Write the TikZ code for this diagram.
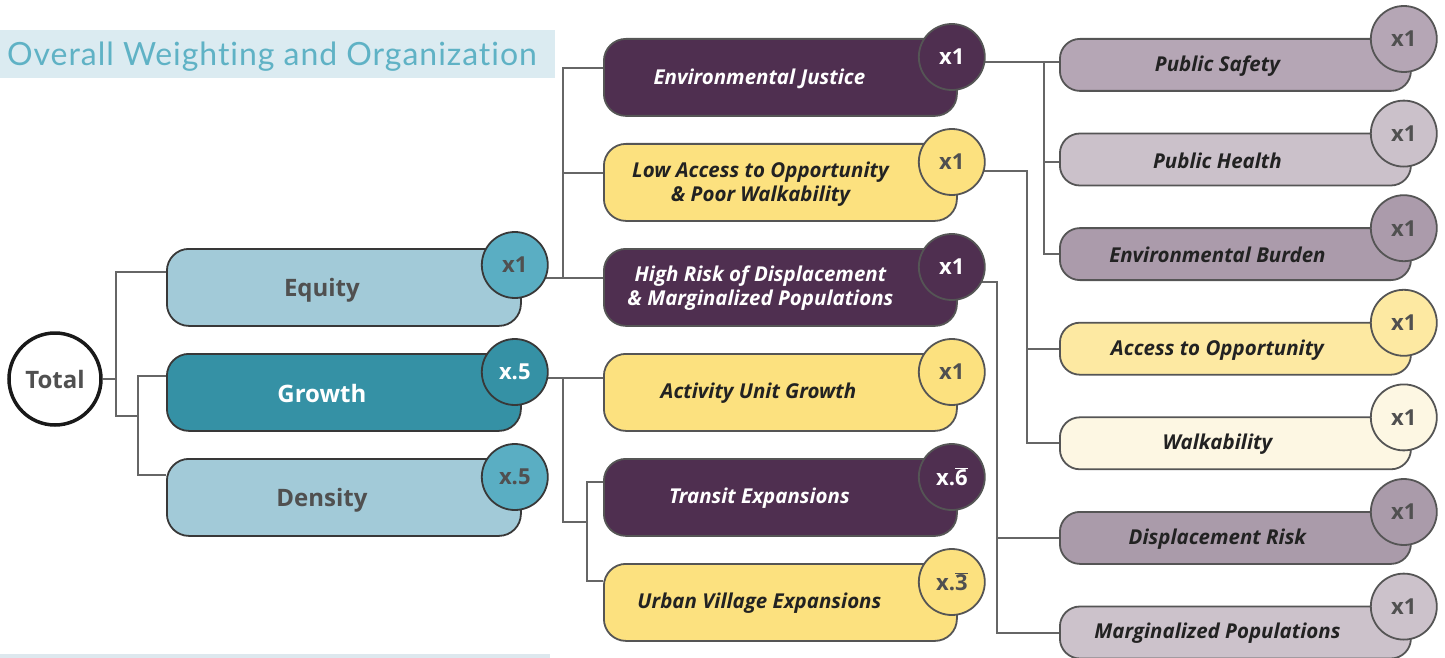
\documentclass[tikz,border=0pt]{standalone}
\usepackage{fontspec}
\setmainfont{Open Sans}
\newfontfamily\titlefont[LetterSpace=3,Ligatures={NoCommon,NoRare,NoContextual}]{Lato}
\usetikzlibrary{backgrounds,calc}
\definecolor{eqfill}{HTML}{A2CAD8}
\definecolor{eqbadge}{HTML}{5AAEC3}
\definecolor{grfill}{HTML}{3591A5}
\definecolor{purp}{HTML}{4F2F50}
\definecolor{yel}{HTML}{FCE17F}
\definecolor{psf}{HTML}{B5A6B5}
\definecolor{phf}{HTML}{CBC1CA}
\definecolor{ebf}{HTML}{AB9BAB}
\definecolor{aof}{HTML}{FDE9A2}
\definecolor{waf}{HTML}{FDF7E3}
\definecolor{drf}{HTML}{AA9BAA}
\definecolor{mpf}{HTML}{CCC2CB}
\definecolor{titlec}{HTML}{5FB2C5}
\definecolor{titleband}{HTML}{DBEBF1}
\definecolor{bottomband}{HTML}{DDE8EE}
\definecolor{linec}{HTML}{666666}
\definecolor{bordc}{HTML}{555555}
\definecolor{darkbord}{HTML}{383838}
\definecolor{graytext}{HTML}{505050}
\definecolor{darktext}{HTML}{222222}
\begin{document}
\begin{tikzpicture}[x=1pt,y=-1pt,
  conn/.style={draw=linec,line width=2pt},
  lbox/.style={draw=darkbord,line width=1.8pt,rounded corners=22pt,minimum width=354pt,minimum height=77pt,inner sep=0pt,anchor=north west},
  mbox/.style={draw=bordc,line width=1.8pt,rounded corners=22pt,minimum width=353pt,minimum height=77pt,inner sep=0pt,anchor=north west},
  rbox/.style={draw=bordc,line width=1.8pt,rounded corners=20pt,minimum width=351pt,minimum height=52pt,inner sep=0pt,anchor=north west},
  badge/.style={circle,draw=bordc,line width=1.8pt,minimum size=66pt,inner sep=0pt,font=\fontsize{22}{24}\selectfont\bfseries},
  lbadge/.style={badge,draw=darkbord},
  ltext/.style={font=\fontsize{24}{28}\selectfont\bfseries,inner sep=0pt},
  mtext/.style={font=\fontsize{20.5}{24}\selectfont\bfseries\itshape,inner sep=0pt,align=center},
]
\useasboundingbox (0,0) rectangle (1445,658);
% title band
\fill[titleband] (0,30) rectangle (555,78);
\node[anchor=base west,inner sep=0pt,text=titlec,font=\titlefont\fontsize{32}{36}\selectfont] (title) at (7,66) {Overall Weighting and Organization};
\fill[bottomband] (0,654) rectangle (550,658);

% Total
\node[circle,draw=black!90,line width=3.5pt,minimum size=92pt,inner sep=0pt,fill=white,text=graytext,font=\fontsize{24}{28}\selectfont\bfseries] (total) at (55,379) {Total};

% left column
\node[lbox,fill=eqfill] (eq) at (166,248) {};
\node[lbox,fill=grfill] (gr) at (166,353) {};
\node[lbox,fill=eqfill] (de) at (166,458) {};
\node[ltext,text=graytext] (eqt) at ([xshift=-22pt,yshift=-3pt]eq.center) {Equity};
\node[ltext,text=white] (grt) at ([xshift=-22pt,yshift=-1pt]gr.center) {Growth};
\node[ltext,text=graytext] (det) at ([xshift=-22pt,yshift=-2.5pt]de.center) {Density};
\node[lbadge,fill=eqbadge,text=graytext] (eqb) at ($(eq.north east)+(-7,17)$) {x1};
\node[lbadge,fill=grfill,text=white] (grb) at ($(gr.north east)+(-7,19)$) {x.5};
\node[lbadge,fill=eqbadge,text=graytext] (deb) at ($(de.north east)+(-7,19)$) {x.5};

% middle column
\node[mbox,fill=purp] (ej) at (603,38) {};
\node[mbox,fill=yel] (la) at (603,143) {};
\node[mbox,fill=purp] (hr) at (603,248) {};
\node[mbox,fill=yel] (au) at (603,353) {};
\node[mbox,fill=purp] (te) at (603,458) {};
\node[mbox,fill=yel] (uv) at (603,563) {};
\node[mtext,text=white] (ejt) at ([xshift=-21pt,yshift=-1pt]ej.center) {Environmental Justice};
\node[mtext,text=darktext] (lat) at ([xshift=-20pt,yshift=-1.5pt]la.center) {Low Access to Opportunity\\[0pt]\& Poor Walkability};
\node[mtext,text=white] (hrt) at ([xshift=-20pt,yshift=-1pt]hr.center) {High Risk of Displacement\\[0pt]\& Marginalized Populations};
\node[mtext,text=darktext] (aut) at ([xshift=-22pt,yshift=-1pt]au.center) {Activity Unit Growth};
\node[mtext,text=white] (tet) at ([xshift=-21pt,yshift=-1pt]te.center) {Transit Expansions};
\node[mtext,text=darktext] (uvt) at ([xshift=-21pt,yshift=-1pt]uv.center) {Urban Village Expansions};
\node[badge,fill=purp,text=white] (ejb) at ($(ej.north east)+(-6,19)$) {x1};
\node[badge,fill=yel,text=graytext] (lab) at ($(la.north east)+(-6,19)$) {x1};
\node[badge,fill=purp,text=white] (hrb) at ($(hr.north east)+(-6,19)$) {x1};
\node[badge,fill=yel,text=graytext] (aub) at ($(au.north east)+(-6,19)$) {x1};
\node[badge,fill=purp,text=white] (teb) at ($(te.north east)+(-6,19)$) {x.$\overline{\hbox{6}}$};
\node[badge,fill=yel,text=graytext] (uvb) at ($(uv.north east)+(-6,19)$) {x.$\overline{\hbox{3}}$};

% right column
\node[rbox,fill=psf] (ps) at (1059,38) {};
\node[rbox,fill=phf] (ph) at (1059,132.6) {};
\node[rbox,fill=ebf] (eb) at (1059,227.2) {};
\node[rbox,fill=aof] (ao) at (1059,321.8) {};
\node[rbox,fill=waf] (wa) at (1059,416.4) {};
\node[rbox,fill=drf] (dr) at (1059,511) {};
\node[rbox,fill=mpf] (mp) at (1059,605.6) {};
\node[mtext,text=darktext] (pst) at ([xshift=-18pt,yshift=-1pt]ps.center) {Public Safety};
\node[mtext,text=darktext] (pht) at ([xshift=-18pt,yshift=-1pt]ph.center) {Public Health};
\node[mtext,text=darktext] (ebt) at ([xshift=-18pt,yshift=-1pt]eb.center) {Environmental Burden};
\node[mtext,text=darktext] (aot) at ([xshift=-18pt,yshift=-1pt]ao.center) {Access to Opportunity};
\node[mtext,text=darktext] (wat) at ([xshift=-18pt,yshift=-1pt]wa.center) {Walkability};
\node[mtext,text=darktext] (drt) at ([xshift=-18pt,yshift=-1pt]dr.center) {Displacement Risk};
\node[mtext,text=darktext] (mpt) at ([xshift=-18pt,yshift=-1pt]mp.center) {Marginalized Populations};
\node[badge,fill=psf,text=graytext] (psb) at ($(ps.north east)+(-8,1)$) {x1};
\node[badge,fill=phf,text=graytext] (phb) at ($(ph.north east)+(-8,1)$) {x1};
\node[badge,fill=ebf,text=graytext] (ebb) at ($(eb.north east)+(-8,1)$) {x1};
\node[badge,fill=aof,text=graytext] (aob) at ($(ao.north east)+(-8,1)$) {x1};
\node[badge,fill=waf,text=graytext] (wab) at ($(wa.north east)+(-8,1)$) {x1};
\node[badge,fill=drf,text=graytext] (drb) at ($(dr.north east)+(-8,1)$) {x1};
\node[badge,fill=mpf,text=graytext] (mpb) at ($(mp.north east)+(-8,1)$) {x1};

% junction coordinates
\coordinate (tJ1) at (116,416);
\coordinate (tJ2) at (138,416);
\coordinate (mJ) at (563,0);
\coordinate (mJ3) at (587,522);
\coordinate (rJ1) at (1044,0);
\coordinate (rJ2) at (1027,0);
\coordinate (rJ3) at (997,0);

\begin{scope}[on background layer]
\draw[conn] (total.east) -- (total.east -| tJ1);
\draw[conn] ([yshift=15pt]eq.west) -| (tJ1) -- (tJ2);
\draw[conn] ([yshift=16pt]gr.west) -| (tJ2) |- ([yshift=22pt]de.west);
% equity -> middle
\draw[conn] (eqb.-23) -- (eqb.-23 -| hr.west);
\draw[conn] (eqb.-23 -| mJ) |- ([yshift=9pt]ej.west);
\draw[conn] (mJ |- la.west) ++(0,-9) -- ([yshift=9pt]la.west);
% growth -> middle
\draw[conn] (grb.-10) -- (grb.-10 -| au.west);
\draw[conn] (grb.-10 -| mJ) |- (mJ3);
\draw[conn] ([yshift=15pt]te.west) -| (mJ3) |- ([yshift=21pt]uv.west);
% env justice -> right
\draw[conn] (ejb.-9) -- (ejb.-9 -| ps.west);
\draw[conn] (ejb.-9 -| rJ1) |- ([yshift=-2pt]ph.west);
\draw[conn] (ejb.-9 -| rJ1) |- (eb.west);
% low access -> right
\draw[conn] (lab.-16) -| (rJ2 |- wa.west) -- (wa.west);
\draw[conn] (rJ2 |- ao.west) -- (ao.west);
% high risk -> right
\draw[conn] (hrb.-27) -| (rJ3 |- mp.west) -- (mp.west);
\draw[conn] (rJ3 |- dr.west) -- (dr.west);
\end{scope}
\end{tikzpicture}
\end{document}
